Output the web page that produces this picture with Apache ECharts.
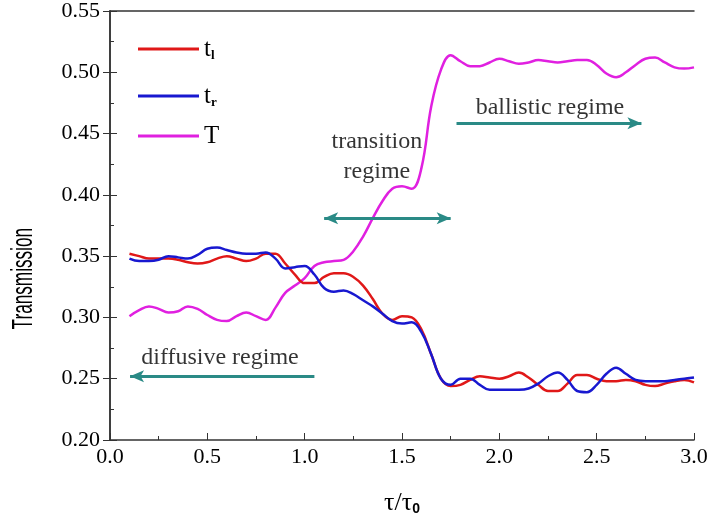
<!DOCTYPE html>
<html>
<head>
<meta charset="utf-8">
<script src="https://cdn.jsdelivr.net/npm/echarts@6/dist/echarts.min.js"></script>
<style>html,body{margin:0;padding:0;background:#fff}#c{width:712px;height:530px}</style>
</head>
<body>
<div id="c"></div>
<script>
// x values (tau/tau0)
var xs = [0.10,0.15,0.20,0.25,0.30,0.35,0.40,0.45,0.50,0.55,0.60,0.65,0.70,0.75,0.80,0.85,0.90,0.95,1.00,
  1.05,1.10,1.15,1.20,1.25,1.30,1.35,1.40,1.45,1.50,1.55,1.60,1.65,1.70,1.75,1.80,1.85,1.90,1.95,2.00,
  2.05,2.10,2.15,2.20,2.25,2.30,2.35,2.40,2.45,2.50,2.55,2.60,2.65,2.70,2.75,2.80,2.85,2.90,2.95,3.00];
var tl = [0.352,0.350,0.348,0.348,0.348,0.347,0.345,0.344,0.345,0.348,0.350,0.348,0.346,0.348,0.352,0.352,0.344,0.335,0.328,
  0.328,0.333,0.336,0.336,0.333,0.326,0.315,0.303,0.298,0.301,0.300,0.290,0.270,0.250,0.244,0.245,0.249,0.252,0.251,0.250,
  0.252,0.255,0.251,0.245,0.240,0.240,0.246,0.253,0.253,0.250,0.248,0.248,0.249,0.248,0.245,0.244,0.246,0.248,0.249,0.247];
var tr = [0.348,0.346,0.346,0.347,0.350,0.349,0.348,0.351,0.356,0.357,0.355,0.353,0.352,0.352,0.353,0.348,0.340,0.341,0.342,
  0.335,0.324,0.321,0.322,0.319,0.314,0.309,0.303,0.297,0.295,0.296,0.288,0.270,0.250,0.245,0.250,0.250,0.245,0.241,0.241,
  0.241,0.241,0.242,0.246,0.252,0.255,0.249,0.240,0.239,0.245,0.254,0.259,0.254,0.249,0.248,0.248,0.248,0.249,0.250,0.251];
var TT = [0.301,0.306,0.309,0.307,0.304,0.305,0.309,0.307,0.302,0.298,0.297,0.301,0.304,0.301,0.298,0.308,0.320,0.326,0.332,
  0.342,0.345,0.346,0.347,0.354,0.366,0.381,0.395,0.405,0.407,0.405,0.422,0.472,0.502,0.514,0.509,0.505,0.505,0.508,0.511,
  0.509,0.507,0.508,0.510,0.509,0.508,0.509,0.510,0.510,0.506,0.499,0.496,0.500,0.506,0.511,0.512,0.508,0.504,0.503,0.504];
var seriesNames = ['t_l','t_r','T'];
var xTicks = [0,0.5,1.0,1.5,2.0,2.5,3.0];
var yTicks = [0.20,0.25,0.30,0.35,0.40,0.45,0.50,0.55];
// annotation texts [x, y, text]
var annoTexts = [[0.565,0.267,'diffusive regime'],[1.371,0.431,'transition\nregime'],[2.26,0.4715,'ballistic regime']];
// arrows [x1, y1, x2, y2, startHead, endHead]
var arrows = [[0.103,0.252,1.05,0.252,'arrow','none'],[1.10,0.381,1.75,0.381,'arrow','arrow'],[1.78,0.4584,2.73,0.4584,'none','arrow']];

function pairs(ys){ return xs.map(function(x,i){return [x,ys[i]];}); }
var colors = ['#e01818','#1818d0','#e020e0'];
var teal = '#2a8a86';
var txt = '#000';
var chart = echarts.init(document.getElementById('c'));
var axisCol = '#333';
chart.setOption({
  animation:false,
  backgroundColor:'#fff',
  grid:{left:110,right:18,top:11,bottom:90},
  legend:{
    orient:'vertical', left:133, top:24, itemWidth:61, itemHeight:3, itemGap:7, icon:'rect',
    data:seriesNames,
    formatter:function(n){ if(n==='t_l') return '{m|t}{s|l}'; if(n==='t_r') return '{m|t}{s|r}'; return '{m|T}'; },
    textStyle:{ rich:{ m:{fontFamily:'Liberation Serif',fontSize:25,color:txt,height:26,lineHeight:26},
                      s:{fontFamily:'Liberation Serif',fontSize:13,fontWeight:'bold',color:txt,padding:[14,0,0,0],height:26,lineHeight:26} } }
  },
  xAxis:[{
    type:'value', min:0, max:3, interval:0.5,
    axisLine:{lineStyle:{color:axisCol,width:1.5}},
    axisTick:{inside:true,length:7,lineStyle:{color:axisCol}},
    minorTick:{show:true,splitNumber:2,length:4,lineStyle:{color:axisCol}},
    splitLine:{show:false},
    axisLabel:{fontFamily:'Liberation Serif',fontSize:22,color:txt,margin:6,
      formatter:function(v){return xTicks.indexOf(v)>=0? v.toFixed(1):'';}},
    name:'{a|τ/τ}{b|0}', nameLocation:'middle', nameGap:50,
    nameTextStyle:{rich:{a:{fontFamily:'Liberation Serif',fontSize:26,color:txt},
                         b:{fontFamily:'Liberation Sans',fontWeight:'bold',fontSize:14,color:txt,padding:[12,0,0,0]}}}
  },{
    type:'value', position:'top', min:0, max:3, interval:0.5,
    axisLine:{lineStyle:{color:axisCol,width:1.5}}, axisTick:{show:false}, axisLabel:{show:false}, splitLine:{show:false}
  }],
  yAxis:[{
    type:'value', min:0.2, max:0.55, interval:0.05,
    axisLine:{show:true,lineStyle:{color:axisCol,width:1.5}},
    axisTick:{show:true,inside:true,length:7,lineStyle:{color:axisCol}},
    minorTick:{show:true,splitNumber:2,length:4,lineStyle:{color:axisCol}},
    splitLine:{show:false},
    axisLabel:{fontFamily:'Liberation Serif',fontSize:22,color:txt,margin:10,
      formatter:function(v){return v.toFixed(2);}}
  },{
    type:'value', position:'right', min:0.2, max:0.55, interval:0.05,
    axisLine:{show:true,lineStyle:{color:axisCol,width:1.5}},
    axisTick:{show:true,inside:true,length:7,lineStyle:{color:axisCol}},
    axisLabel:{show:false}, splitLine:{show:false}
  }],
  graphic:[{
    type:'text', left:9, top:228, rotation:Math.PI/2, scaleX:0.66, scaleY:1.15,
    style:{text:'Transmission', font:'26px "Liberation Sans"', fill:txt}
  }],
  series:[
    {name:'t_l',type:'line',data:pairs(tl),showSymbol:false,smooth:0.4,lineStyle:{width:2.5,color:colors[0]},itemStyle:{color:colors[0]},z:3},
    {name:'t_r',type:'line',data:pairs(tr),showSymbol:false,smooth:0.4,lineStyle:{width:2.5,color:colors[1]},itemStyle:{color:colors[1]},z:4},
    {name:'T',type:'line',data:pairs(TT),showSymbol:false,smooth:0.4,lineStyle:{width:2.5,color:colors[2]},itemStyle:{color:colors[2]},z:2},
    {name:'anno',type:'scatter',data:annoTexts,symbolSize:0,silent:true,
     label:{show:true,position:'inside',formatter:function(p){return p.value[2];},
       fontFamily:'Liberation Serif',fontSize:24,color:txt,lineHeight:30},
     markLine:{silent:true,symbolSize:[9,14],label:{show:false},
       lineStyle:{type:'solid',width:3,color:teal},itemStyle:{color:teal},
       data:arrows.map(function(a){return [{coord:[a[0],a[1]],symbol:a[4]},{coord:[a[2],a[3]],symbol:a[5]}];})}
    }
  ]
});
</script>
</body>
</html>
